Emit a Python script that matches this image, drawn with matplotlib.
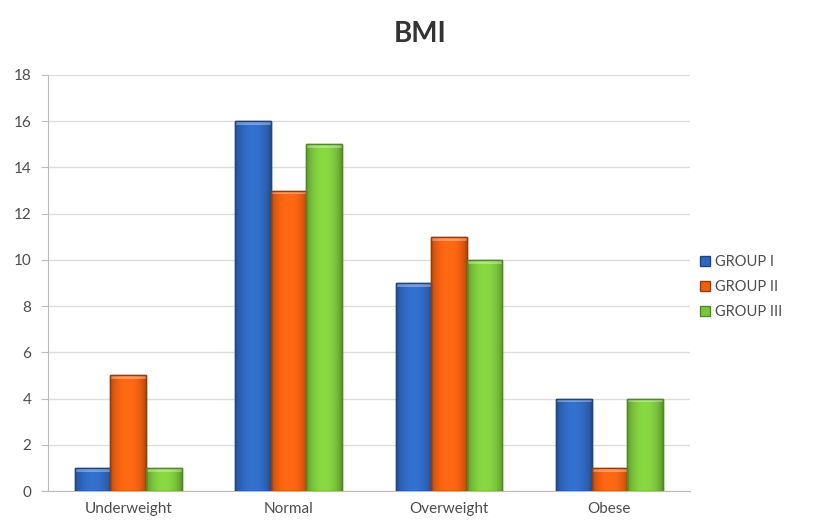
import numpy as np
import matplotlib
matplotlib.use("Agg")
import matplotlib.pyplot as plt
from matplotlib.colors import to_rgb

categories = ["Underweight", "Normal", "Overweight", "Obese"]
groups = ["GROUP I", "GROUP II", "GROUP III"]
group1 = [1, 16, 9, 4]
group2 = [5, 13, 11, 1]
group3 = [1, 15, 10, 4]
yticks = [0, 2, 4, 6, 8, 10, 12, 14, 16, 18]

colors = ["#2f67bd", "#ee6010", "#7cc63c"]
edges = ["#1f4680", "#9a3c08", "#4f8a22"]

plt.rcParams['font.family'] = ['Lato', 'DejaVu Sans']

fig = plt.figure(figsize=(8.2, 5.27), dpi=100)
ax = fig.add_axes([0.0585, 0.0683, 0.7825, 0.7894])

x = np.arange(len(categories))
w = 0.222


def shade(bar, color):
    # horizontal gradient: darker sides, lighter middle
    r, g, b = to_rgb(color)
    t = np.linspace(0, 1, 64)
    k = 0.72 + 0.38 * np.sin(np.pi * t) ** 0.6
    img = np.clip(np.stack([np.outer(np.ones(2), k * c) for c in (r, g, b)], axis=-1), 0, 1)
    x0, y0 = bar.get_x(), bar.get_y()
    im = ax.imshow(img, extent=[x0, x0 + bar.get_width(), y0, y0 + bar.get_height()],
                   aspect="auto", zorder=3, interpolation="bilinear")
    im.set_clip_path(bar)


for i, vals in enumerate([group1, group2, group3]):
    bars = ax.bar(x + (i - 1) * w, vals, w, color=colors[i], edgecolor=edges[i],
                  linewidth=1.0, label=groups[i], zorder=2)
    for bar in bars:
        shade(bar, colors[i])
        # light cap on top of each bar
        ax.plot([bar.get_x() + 0.01, bar.get_x() + bar.get_width() - 0.01],
                [bar.get_height() - 0.08] * 2, color="white", alpha=0.35, lw=2, zorder=4)
        ax.add_patch(plt.Rectangle((bar.get_x(), 0), bar.get_width(), bar.get_height(),
                                   fill=False, edgecolor=edges[i], lw=1.0, zorder=5))

ax.set_xlim(-0.5, len(categories) - 0.5)
ax.set_ylim(0, 18)
ax.set_yticks(yticks)
ax.set_xticks(x)
ax.set_xticklabels(categories)
ax.tick_params(axis="x", length=0, pad=8, labelsize=11, labelcolor="#4d4d4d")
ax.tick_params(axis="y", length=5, color="#bbbbbb", pad=7, labelsize=11, labelcolor="#4d4d4d")
ax.grid(axis="y", color="#dddddd", lw=1, zorder=0)
ax.set_axisbelow(True)
for s in ["top", "right"]:
    ax.spines[s].set_visible(False)
ax.spines["left"].set_color("#bbbbbb")
ax.spines["bottom"].set_color("#bbbbbb")

fig.text(0.512, 0.935, "BMI", ha="center", va="center", fontsize=20, fontweight="bold",
         color="#333333")

handles, labels = ax.get_legend_handles_labels()
leg = fig.legend(handles, labels, loc="center left", bbox_to_anchor=(0.838, 0.455),
                 frameon=False, fontsize=10.5, handlelength=0.7, handleheight=0.7,
                 handletextpad=0.3, labelspacing=0.75)
for t in leg.get_texts():
    t.set_color("#4d4d4d")

fig.savefig("out.png", dpi=100)
